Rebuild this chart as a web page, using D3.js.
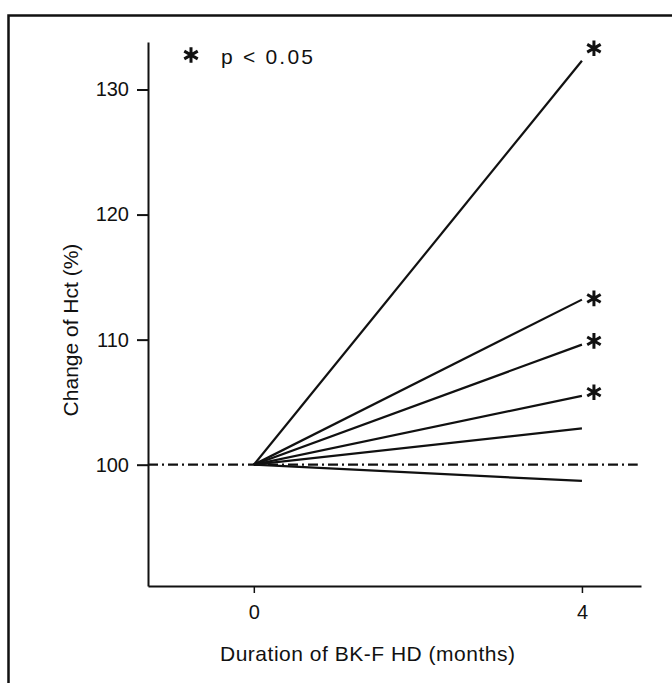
<!DOCTYPE html>
<html>
<head>
    <title>Change of Hct</title>
    <script src="https://d3js.org/d3.v7.min.js"></script>
    <style>
        body, html {
            margin: 0;
            padding: 0;
            background: white;
            overflow: hidden;
        }
        text {
            font-family: Arial, "Liberation Sans", sans-serif;
            fill: #111;
        }
    </style>
</head>
<body>
    <svg id="chart" width="672" height="683"></svg>

    <script>
        // data
        const months = [0, 4];
        const startValue = 100;
        const endValues = [132.3, 113.2, 109.6, 105.5, 102.9, 98.7];
        const significant = [true, true, true, true, false, false];
        const starValues = [133.3, 113.3, 109.9, 105.8]; // where the * marks sit
        const xTicks = [0, 4];
        const yTicks = [100, 110, 120, 130];

        const svg = d3.select("#chart");

        // outer frame of the scanned figure
        svg.append("path")
            .attr("d", "M8.5,690 V15.5 H680")
            .attr("fill", "none")
            .attr("stroke", "#111")
            .attr("stroke-width", 2.5);

        const x = d3.scaleLinear()
            .domain([-1.29, 4.72])
            .range([148, 641]);

        const y = d3.scaleLinear()
            .domain([90.3, 133.8])
            .range([586, 42]);

        // y axis
        const yAxis = svg.append("g")
            .attr("transform", `translate(${x(-1.29)},0)`)
            .call(d3.axisLeft(y).tickValues(yTicks).tickFormat(d3.format("d"))
                .tickSize(11).tickPadding(8).tickSizeOuter(0));
        yAxis.select(".domain").attr("stroke", "#111").attr("stroke-width", 2);
        yAxis.selectAll(".tick line").attr("stroke", "#111").attr("stroke-width", 2);
        yAxis.selectAll(".tick text")
            .style("font-size", "20px")
            .attr("fill", "#111");

        // x axis
        const xAxis = svg.append("g")
            .attr("transform", `translate(0,${y(90.3)})`)
            .call(d3.axisBottom(x).tickValues(xTicks).tickFormat(d3.format("d"))
                .tickSize(7).tickPadding(12).tickSizeOuter(0));
        xAxis.select(".domain").attr("stroke", "#111").attr("stroke-width", 2);
        xAxis.selectAll(".tick line").attr("stroke", "#111").attr("stroke-width", 1.5);
        xAxis.selectAll(".tick text")
            .style("font-size", "20px")
            .attr("fill", "#111");

        // reference line at 100 %
        svg.append("line")
            .attr("x1", x(-1.29))
            .attr("x2", x(4.68))
            .attr("y1", y(startValue))
            .attr("y2", y(startValue))
            .attr("stroke", "#111")
            .attr("stroke-width", 2.2)
            .attr("stroke-dasharray", "10,4,2,4");

        // patient groups
        const line = d3.line()
            .x(d => x(d[0]))
            .y(d => y(d[1]));

        svg.selectAll(".series")
            .data(endValues)
            .enter().append("path")
            .attr("class", "series")
            .attr("d", v => line([[months[0], startValue], [months[1], v]]))
            .attr("fill", "none")
            .attr("stroke", "#111")
            .attr("stroke-width", 2.2);

        // significance marks
        const star = d3.symbol().type(d3.symbolAsterisk).size(170);

        svg.selectAll(".star")
            .data(starValues)
            .enter().append("path")
            .attr("class", "star")
            .attr("transform", v => `translate(${x(months[1]) + 12},${y(v)})`)
            .attr("d", star)
            .attr("fill", "none")
            .attr("stroke", "#111")
            .attr("stroke-width", 3);

        // legend
        svg.append("path")
            .attr("transform", "translate(191,55)")
            .attr("d", star)
            .attr("fill", "none")
            .attr("stroke", "#111")
            .attr("stroke-width", 3);
        svg.append("text")
            .attr("x", 221)
            .attr("y", 64)
            .attr("textLength", 92)
            .style("font-size", "21px")
            .text("p < 0.05");

        // axis titles
        svg.append("text")
            .attr("x", 220)
            .attr("y", 661)
            .attr("textLength", 295)
            .style("font-size", "21px")
            .text("Duration of BK-F HD (months)");

        svg.append("text")
            .attr("transform", "translate(78,330) rotate(-90)")
            .attr("text-anchor", "middle")
            .style("font-size", "21px")
            .text("Change of Hct (%)");
    </script>
</body>
</html>
